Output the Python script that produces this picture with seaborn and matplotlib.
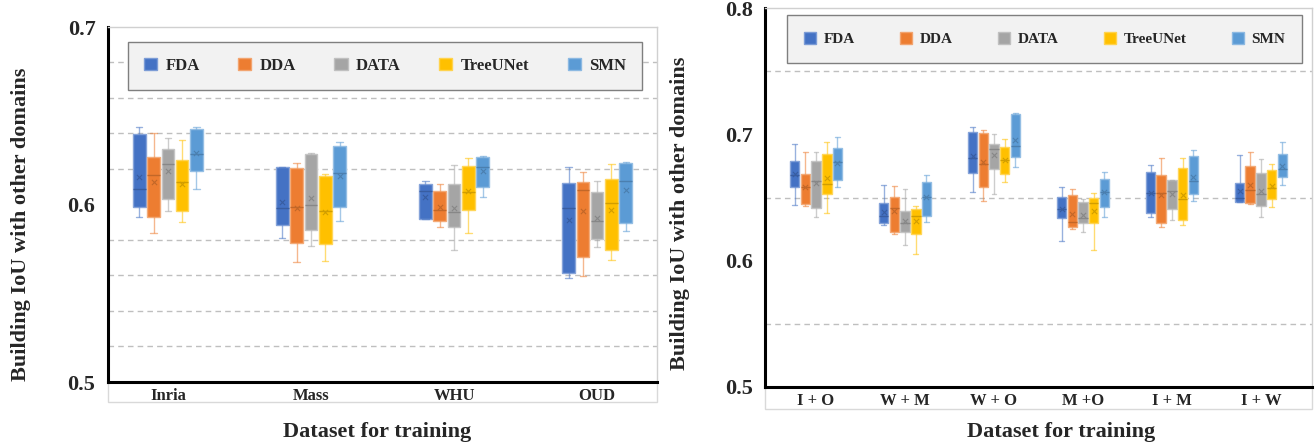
import numpy as np
import pandas as pd
import matplotlib
matplotlib.use("Agg")
import matplotlib.pyplot as plt
import matplotlib.colors as mcolors
from matplotlib.patches import Patch, Rectangle
import seaborn as sns

# ---------------- data ----------------
methods = ["FDA", "DDA", "DATA", "TreeUNet", "SMN"]
colors = ["#4472C4", "#ED7D31", "#A5A5A5", "#FFC000", "#5B9BD5"]

left_sets = ["Inria", "Mass", "WHU", "OUD"]
# rows = methods, cols = datasets
left_whishi = [[.6434, .6213, .6134, .6213],
               [.6400, .6231, .6113, .6181],
               [.6372, .6288, .6222, .6132],
               [.6363, .6171, .6263, .6227],
               [.6434, .6353, .6273, .6240]]
left_q3 = [[.6396, .6209, .6117, .6121],
           [.6269, .6203, .6076, .6124],
           [.6312, .6282, .6115, .6070],
           [.6248, .6162, .6216, .6142],
           [.6423, .6329, .6269, .6235]]
left_med = [[.6090, .5982, .6076, .5978],
            [.6164, .5984, .5969, .6079],
            [.6228, .5995, .5959, .5907],
            [.6124, .5963, .6068, .6011],
            [.6282, .6179, .6213, .6135]]
left_q1 = [[.5988, .5883, .5918, .5616],
           [.5928, .5785, .5907, .5706],
           [.6033, .5856, .5875, .5803],
           [.5965, .5776, .5967, .5746],
           [.6188, .5988, .6100, .5896]]
left_whislo = [[.5931, .5813, .5916, .5584],
               [.5838, .5674, .5871, .5598],
               [.5965, .5768, .5744, .5761],
               [.5899, .5684, .5838, .5690],
               [.6090, .5905, .6040, .5849]]
left_mean = [[.6153, .6016, .6040, .5913],
             [.6128, .5982, .5988, .5965],
             [.6190, .6036, .5982, .5926],
             [.6117, .5959, .6076, .5971],
             [.6288, .6162, .6190, .6082]]

right_sets = ["I + O", "W + M", "W + O", "M +O", "I + M", "I + W"]
right_whishi = [[.6921, .6602, .7061, .6580, .6755, .6834],
                [.6857, .6594, .7037, .6570, .6815, .6857],
                [.6857, .6565, .7000, .6491, .6638, .6802],
                [.6942, .6435, .6960, .6533, .6810, .6762],
                [.6982, .6675, .7166, .6699, .6879, .6939]]
right_q3 = [[.6786, .6459, .7016, .6507, .6704, .6612],
            [.6683, .6507, .7008, .6517, .6678, .6752],
            [.6786, .6396, .6926, .6464, .6636, .6694],
            [.6842, .6409, .6897, .6499, .6731, .6718],
            [.6892, .6625, .7158, .6646, .6831, .6844]]
right_med = [[.6678, .6353, .6810, .6409, .6533, .6493],
             [.6583, .6417, .6765, .6306, .6533, .6559],
             [.6628, .6295, .6881, .6335, .6551, .6525],
             [.6604, .6353, .6794, .6454, .6485, .6572],
             [.6784, .6507, .6908, .6546, .6631, .6723]]
right_q1 = [[.6580, .6295, .6691, .6335, .6375, .6464],
            [.6446, .6230, .6583, .6269, .6295, .6454],
            [.6419, .6227, .6728, .6295, .6412, .6435],
            [.6525, .6208, .6689, .6295, .6322, .6491],
            [.6636, .6356, .6823, .6427, .6525, .6665]]
right_whislo = [[.6440, .6280, .6546, .6156, .6343, .6462],
                [.6430, .6208, .6472, .6248, .6269, .6451],
                [.6348, .6121, .6525, .6224, .6322, .6343],
                [.6380, .6050, .6623, .6084, .6282, .6422],
                [.6586, .6306, .6739, .6348, .6472, .6596]]
right_mean = [[.6683, .6388, .6828, .6406, .6538, .6549],
              [.6586, .6390, .6781, .6367, .6517, .6602],
              [.6612, .6314, .6834, .6361, .6525, .6554],
              [.6654, .6314, .6794, .6396, .6517, .6594],
              [.6773, .6501, .6958, .6541, .6660, .6747]]

left_ticks = [0.5, 0.6, 0.7]
left_grid = [0.52, 0.54, 0.56, 0.58, 0.60, 0.62, 0.64, 0.66, 0.68]
right_ticks = [0.5, 0.6, 0.7, 0.8]
right_grid = [0.55, 0.60, 0.65, 0.70, 0.75, 0.80]

ylabel = "Building IoU with other domains"
xlabel = "Dataset for training"

# ---------------- style ----------------
sns.set_theme(style="white")
SERIF = ["Liberation Serif", "DejaVu Serif"]
plt.rcParams["font.family"] = SERIF
plt.rcParams["font.weight"] = "bold"


def build_df(sets, lo, q1, med, q3, hi):
    rows = []
    for i, m in enumerate(methods):
        for j, s in enumerate(sets):
            for v in (lo[i][j], q1[i][j], med[i][j], q3[i][j], hi[i][j]):
                rows.append({"dataset": s, "method": m, "iou": v})
    return pd.DataFrame(rows)


def mix(c, other, t):
    a = np.array(mcolors.to_rgb(c))
    b = np.array(mcolors.to_rgb(other))
    return tuple(a * (1 - t) + b * t)


def draw_panel(ax, sets, lo, q1, med, q3, hi, means, ylim, ticks, grid,
               width, gap, leg_anchor, leg_size, leg_colsp, leg_pad, tbl_h):
    df = build_df(sets, lo, q1, med, q3, hi)
    sns.boxplot(data=df, x="dataset", y="iou", hue="method",
                order=sets, hue_order=methods, palette=colors,
                width=width, gap=gap, whis=(0, 100), linewidth=1,
                showfliers=False, legend=False, ax=ax)
    conts = [c for c in ax.containers if hasattr(c, "boxes")]
    for i, cont in enumerate(conts):
        col = colors[i]
        light = mix(col, "white", 0.35)
        dark = mix(col, "black", 0.18)
        xs = []
        for b in cont.boxes:
            b.set_facecolor(col)
            b.set_edgecolor(light)
            b.set_linewidth(1.0)
            v = b.get_path().vertices
            xs.append((v[:, 0].min() + v[:, 0].max()) / 2)
        for ln in list(cont.whiskers) + list(cont.caps):
            ln.set_color(col)
            ln.set_alpha(0.55)
            ln.set_linewidth(1.0)
        for ln in cont.medians:
            ln.set_color(dark)
            ln.set_linewidth(1.0)
        ax.scatter(xs, means[i], marker="x", s=14, color=dark,
                   linewidths=0.8, zorder=6)

    ax.set_ylim(*ylim)
    ax.set_yticks(ticks)
    ax.set_yticklabels([f"{t:.1f}" for t in ticks])
    ax.set_yticks(grid, minor=True)
    ax.yaxis.grid(True, which="minor", linestyle=(0, (4, 3)),
                  color="#bfbfbf", linewidth=1)
    ax.yaxis.grid(False, which="major")
    ax.set_axisbelow(True)
    ax.tick_params(axis="both", which="both", length=0)
    ax.tick_params(axis="y", labelsize=16, pad=9)
    ax.tick_params(axis="x", labelsize=12, pad=4)
    for lab in ax.get_xticklabels() + ax.get_yticklabels():
        lab.set_fontweight("bold")
    ax.set_xlabel("")
    ax.set_ylabel("")
    for side in ("left", "bottom"):
        ax.spines[side].set_color("black")
        ax.spines[side].set_linewidth(2.2)
    for side in ("top", "right"):
        ax.spines[side].set_color("#d0d0d0")
        ax.spines[side].set_linewidth(1)
    ax.add_patch(Rectangle((0, -tbl_h), 1, tbl_h, transform=ax.transAxes,
                           fill=False, edgecolor="#d9d9d9", linewidth=1,
                           clip_on=False, zorder=0))

    handles = [Patch(facecolor=c, edgecolor=mix(c, "white", 0.3))
               for c in colors]
    leg = ax.legend(handles, methods, loc="upper left",
                    bbox_to_anchor=leg_anchor, ncol=5,
                    frameon=True, fancybox=False,
                    prop={"weight": "bold", "size": leg_size,
                          "family": SERIF},
                    handlelength=0.8, handleheight=0.8,
                    handletextpad=0.5, columnspacing=leg_colsp,
                    borderpad=leg_pad, borderaxespad=0)
    fr = leg.get_frame()
    fr.set_facecolor("#f2f2f2")
    fr.set_edgecolor("#7f7f7f")
    fr.set_linewidth(1)
    fr.set_alpha(1)


W, H = 1315, 446
fig = plt.figure(figsize=(W / 100, H / 100), dpi=100)
fig.patch.set_facecolor("white")

ax1 = fig.add_axes([108 / W, 1 - 382 / H, 549 / W, 355 / H])
ax2 = fig.add_axes([765 / W, 1 - 387 / H, 547 / W, 379 / H])

draw_panel(ax1, left_sets, left_whislo, left_q1, left_med, left_q3,
           left_whishi, left_mean, (0.5, 0.7), left_ticks, left_grid,
           0.5, 0.12, (0.0364, 0.958), 12, 2.3, 0.95, 20 / 355)
draw_panel(ax2, right_sets, right_whislo, right_q1, right_med, right_q3,
           right_whishi, right_mean, (0.5, 0.8), right_ticks, right_grid,
           0.6, 0.1, (0.040, 0.9815), 11, 2.95, 1.1, 22 / 379)

fig.text(21 / W, 1 - 224 / H, ylabel, rotation=90, ha="center",
         va="center", fontsize=16, fontweight="bold")
fig.text(680 / W, 1 - 213 / H, ylabel, rotation=90, ha="center",
         va="center", fontsize=16, fontweight="bold")
fig.text(377 / W, 1 - 437 / H, xlabel, ha="center", va="baseline",
         fontsize=16, fontweight="bold")
fig.text(1061 / W, 1 - 436.5 / H, xlabel, ha="center", va="baseline",
         fontsize=16, fontweight="bold")

fig.savefig("out.png", dpi=100, facecolor="white")
